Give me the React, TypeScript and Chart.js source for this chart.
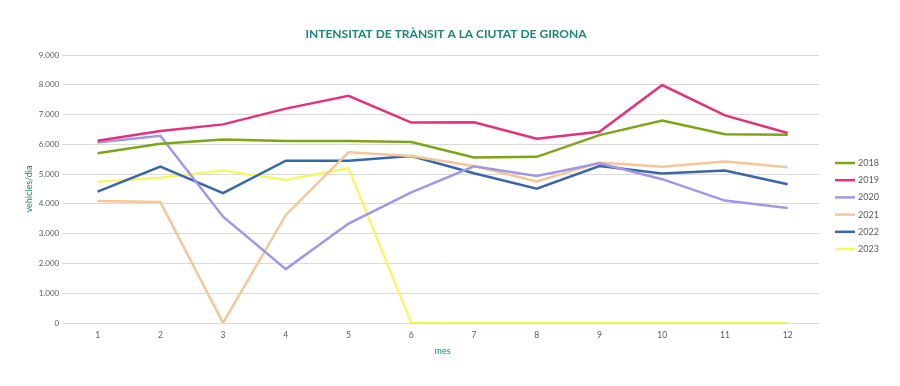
import React, { useEffect, useRef } from "react";
import { Chart, registerables } from "chart.js";

Chart.register(...registerables);

const months = ["1", "2", "3", "4", "5", "6", "7", "8", "9", "10", "11", "12"];
const years = ["2018", "2019", "2020", "2021", "2022", "2023"];
const v2018 = [5700, 6020, 6160, 6110, 6110, 6080, 5560, 5580, 6310, 6800, 6340, 6320];
const v2019 = [6120, 6450, 6670, 7200, 7630, 6730, 6740, 6190, 6420, 7990, 6970, 6380];
const v2020 = [6060, 6290, 3570, 1810, 3340, 4390, 5260, 4940, 5360, 4830, 4110, 3860];
const v2021 = [4100, 4060, 0, 3630, 5730, 5610, 5270, 4750, 5390, 5250, 5420, 5230];
const v2022 = [4410, 5250, 4360, 5450, 5450, 5610, 5030, 4510, 5270, 5020, 5120, 4660];
const v2023 = [4740, 4880, 5120, 4800, 5200, 0, 0, 0, 0, 0, 0, 0];
const seriesValues = [v2018, v2019, v2020, v2021, v2022, v2023];
const colors = ["#7ca51a", "#e5307f", "#a297e3", "#f5c69a", "#3a66a6", "#f7f76c"];
const yTicks = [0, 1000, 2000, 3000, 4000, 5000, 6000, 7000, 8000, 9000];
const titleText = "INTENSITAT DE TRÀNSIT A LA CIUTAT DE GIRONA";

const FONT = "Lato, 'Open Sans', sans-serif";
const TEAL = "#1d8478";
const GREY = "#595959";

const decorations = {
  id: "decorations",
  afterDraw(chart: any) {
    const { ctx, chartArea, width } = chart;
    ctx.save();
    // title, centred on the whole canvas
    ctx.font = `bold 12px ${FONT}`;
    ctx.fillStyle = TEAL;
    ctx.textAlign = "center";
    ctx.textBaseline = "middle";
    ctx.fillText(titleText, width / 2 - 4, 34);
    // legend at the right
    const x0 = chartArea.right + 16;
    const step = 17.2;
    const n = chart.data.datasets.length;
    const cy = (chartArea.top + chartArea.bottom) / 2 + 17;
    const y0 = cy - ((n - 1) * step) / 2;
    ctx.font = `9px ${FONT}`;
    ctx.textAlign = "left";
    chart.data.datasets.forEach((d: any, i: number) => {
      const y = y0 + i * step;
      ctx.strokeStyle = d.borderColor;
      ctx.lineWidth = 2.5;
      ctx.beginPath();
      ctx.moveTo(x0, y);
      ctx.lineTo(x0 + 20, y);
      ctx.stroke();
      ctx.fillStyle = GREY;
      ctx.fillText(d.label, x0 + 23, y);
    });
    ctx.restore();
  },
};

export default function App() {
  const ref = useRef<HTMLCanvasElement | null>(null);
  useEffect(() => {
    if (!ref.current) return;
    const chart = new Chart(ref.current, {
      type: "line",
      data: {
        labels: months,
        datasets: years.map((y, i) => ({
          label: y,
          data: seriesValues[i],
          borderColor: colors[i],
          backgroundColor: colors[i],
          borderWidth: 2.5,
          pointRadius: 0,
          tension: 0,
          fill: false,
        })),
      },
      plugins: [decorations],
      options: {
        animation: false,
        responsive: false,
        maintainAspectRatio: false,
        layout: { padding: { left: 24, right: 81, top: 55, bottom: 30 } },
        plugins: {
          title: { display: false },
          legend: { display: false },
          tooltip: { enabled: false },
        },
        scales: {
          x: {
            offset: true,
            grid: { display: false, drawTicks: false, tickLength: 0 },
            border: { display: false },
            ticks: { color: GREY, font: { family: FONT, size: 8.5 }, padding: 7 },
            title: {
              display: true,
              text: "mes",
              color: TEAL,
              font: { family: FONT, size: 9 },
              padding: { top: -2, bottom: 0 },
            },
          },
          y: {
            min: 0,
            max: 9000,
            afterBuildTicks: (axis: any) => {
              axis.ticks = yTicks.map((v) => ({ value: v }));
            },
            grid: { color: "#d9d9d9", lineWidth: 1, tickLength: 4, drawTicks: true },
            border: { display: false },
            ticks: {
              color: GREY,
              font: { family: FONT, size: 8 },
              padding: 3,
              callback: (v: any) => Number(v).toLocaleString("de-DE"),
            },
            title: {
              display: true,
              text: "vehicles/dia",
              color: TEAL,
              font: { family: FONT, size: 9 },
              padding: { top: 0, bottom: 1 },
            },
          },
        },
      },
    });
    return () => chart.destroy();
  }, []);
  return (
    <div style={{ position: "fixed", left: 0, top: 0, width: 900, height: 386, background: "#fff" }}>
      <canvas ref={ref} width={900} height={386} style={{ width: 900, height: 386 }} />
    </div>
  );
}
